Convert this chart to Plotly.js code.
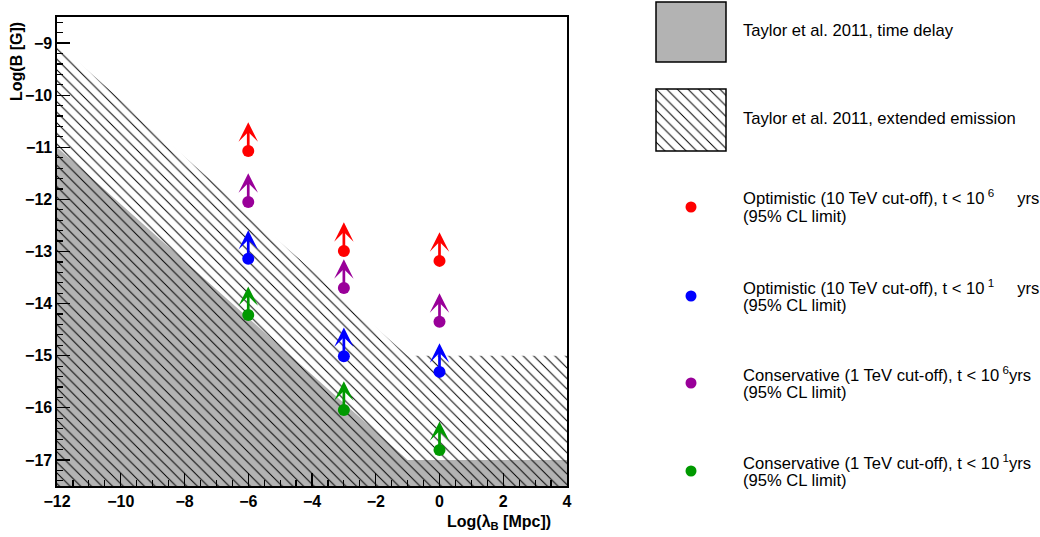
<!DOCTYPE html>
<html>
<head>
<meta charset="utf-8">
<script src="https://cdn.plot.ly/plotly-3.0.1.min.js"></script>
<style>html,body{margin:0;padding:0;background:#fff;}#chart{width:1040px;height:537px;}</style>
</head>
<body>
<div id="chart"></div>
<script>
// ---- data ----
const lambdaCols = [-6, -3, 0];                      // Log(lambda_B [Mpc])
const optimistic1e6 = [-11.07, -12.99, -13.18];      // red
const optimistic1e1 = [-13.14, -15.01, -15.31];      // blue
const conservative1e6 = [-12.05, -13.70, -14.35];    // purple
const conservative1e1 = [-14.22, -16.04, -16.81];    // green
const timeDelayX = [-12, -1, 4];
const timeDelayY = [-11, -17, -17];
const extEmissionX = [-12, -1, 4];
const extEmissionY = [-9, -15, -15];
const xRange = [-12, 4];
const yRange = [-17.5, -8.5];
const arrowLen = 0.55;

const seriesLine1 = [
  "Optimistic (10 TeV cut-off), t < 10<sup> 6</sup>&nbsp;&nbsp;&nbsp;&nbsp; yrs",
  "Optimistic (10 TeV cut-off), t < 10<sup> 1</sup>&nbsp;&nbsp;&nbsp;&nbsp; yrs",
  "Conservative (1 TeV cut-off), t < 10<sup> 6</sup>yrs",
  "Conservative (1 TeV cut-off), t < 10<sup> 1</sup>yrs"
];
const seriesLine2 = ["(95% CL limit)", "(95% CL limit)", "(95% CL limit)", "(95% CL limit)"];
const seriesValues = [optimistic1e6, optimistic1e1, conservative1e6, conservative1e1];
const seriesColors = ["#ff0000", "#0000ff", "#990099", "#009900"];

// ---- geometry ----
const W = 1040, H = 537;
const L = 57, R = 567, T = 17, B = 486;
const px = v => v / W;
const py = v => 1 - v / H;
const FONT = "Liberation Sans, Arial, Helvetica, sans-serif";

const traces = [];
// time delay (gray)
traces.push({
  type: 'scatter', mode: 'none', hoverinfo: 'skip', showlegend: false,
  x: timeDelayX.concat([xRange[1], xRange[0]]),
  y: timeDelayY.concat([yRange[0], yRange[0]]),
  fill: 'toself', fillcolor: '#b3b3b3'
});
// extended emission (hatched)
traces.push({
  type: 'scatter', mode: 'none', hoverinfo: 'skip', showlegend: false,
  x: extEmissionX.concat([xRange[1], xRange[0]]),
  y: extEmissionY.concat([yRange[0], yRange[0]]),
  fill: 'toself', fillcolor: 'rgba(0,0,0,0)',
  fillpattern: {shape: '\\', fgcolor: '#000000', bgcolor: 'rgba(0,0,0,0)', size: 7.5, solidity: 0.13}
});
// points
const annotations = [];
seriesValues.forEach((vals, i) => {
  traces.push({
    type: 'scatter', mode: 'markers', showlegend: false, hoverinfo: 'skip',
    x: lambdaCols, y: vals,
    marker: {color: seriesColors[i], size: 12, line: {width: 0}}
  });
  vals.forEach((v, j) => {
    annotations.push({
      xref: 'x', yref: 'y', axref: 'x', ayref: 'y',
      x: lambdaCols[j], y: v + arrowLen, ax: lambdaCols[j], ay: v,
      text: '', showarrow: true, arrowhead: 3, arrowsize: 1.2,
      arrowwidth: 2.7, arrowcolor: seriesColors[i], standoff: 0
    });
  });
});
// legend hatch box fill
traces.push({
  type: 'scatter', mode: 'none', hoverinfo: 'skip', showlegend: false,
  xaxis: 'x2', yaxis: 'y2',
  x: [0, 1, 1, 0, 0], y: [0, 0, 1, 1, 0],
  fill: 'toself', fillcolor: 'rgba(0,0,0,0)',
  fillpattern: {shape: '\\', fgcolor: '#000000', bgcolor: 'rgba(0,0,0,0)', size: 7.5, solidity: 0.13}
});

// axis titles
annotations.push({
  xref: 'paper', yref: 'paper', x: px(17), y: py(62), xanchor: 'center', yanchor: 'middle',
  text: 'Log(B [G])', textangle: -90, showarrow: false,
  font: {family: FONT, size: 16, weight: 'bold', color: '#000'}
});
annotations.push({
  xref: 'paper', yref: 'paper', x: px(553), y: py(522), xanchor: 'right', yanchor: 'middle',
  text: 'Log(λ<sub>B</sub> [Mpc])', showarrow: false,
  font: {family: FONT, size: 16, weight: 'bold', color: '#000'}
});

// legend
const shapes = [];
const boxL = 656, boxR = 726;
shapes.push({type: 'rect', xref: 'paper', yref: 'paper', x0: px(boxL), x1: px(boxR), y0: py(62), y1: py(2),
  fillcolor: '#b3b3b3', line: {color: '#000', width: 1.5}, layer: 'above'});
shapes.push({type: 'rect', xref: 'paper', yref: 'paper', x0: px(boxL), x1: px(boxR), y0: py(151), y1: py(89),
  fillcolor: 'rgba(0,0,0,0)', line: {color: '#000', width: 1.5}, layer: 'above'});
const legText = (t, yPix) => ({
  xref: 'paper', yref: 'paper', x: px(741), y: py(yPix), xanchor: 'left', yanchor: 'middle',
  align: 'left', text: t, showarrow: false, font: {family: FONT, size: 16.6, color: '#000'}
});
annotations.push(legText('Taylor et al. 2011, time delay', 31));
annotations.push(legText('Taylor et al. 2011, extended emission', 118));
const legDotY = [207, 296, 383, 471];
seriesLine1.forEach((nm, i) => {
  shapes.push({type: 'circle', xref: 'paper', yref: 'paper', xsizemode: 'pixel', ysizemode: 'pixel',
    xanchor: px(691), yanchor: py(legDotY[i]), x0: -5.5, x1: 5.5, y0: -5.5, y1: 5.5,
    fillcolor: seriesColors[i], line: {width: 0}, layer: 'above'});
  annotations.push(legText(nm, legDotY[i] - 9.5));
  annotations.push(legText(seriesLine2[i], legDotY[i] + 9.5));
});

const tickFont = {family: FONT, size: 16, weight: 'bold', color: '#000'};
const layout = {
  width: W, height: H,
  margin: {l: 0, r: 0, t: 0, b: 0},
  paper_bgcolor: '#fff', plot_bgcolor: '#fff',
  showlegend: false,
  xaxis: {
    domain: [px(L), px(R)], range: xRange, dtick: 2, tick0: 0,
    ticks: 'inside', ticklen: 13, tickwidth: 1.2, tickcolor: '#000',
    minor: {ticks: 'inside', ticklen: 6, dtick: 0.5, tickwidth: 1.2, tickcolor: '#000', showgrid: false},
    showline: true, linecolor: '#000', linewidth: 1.6, mirror: true,
    showgrid: false, zeroline: false, tickfont: tickFont, anchor: 'y', fixedrange: true
  },
  yaxis: {
    domain: [py(B), py(T)], range: yRange, dtick: 1, tick0: 0,
    ticks: 'inside', ticklen: 13, tickwidth: 1.2, tickcolor: '#000',
    minor: {ticks: 'inside', ticklen: 6, dtick: 0.2, tickwidth: 1.2, tickcolor: '#000', showgrid: false},
    showline: true, linecolor: '#000', linewidth: 1.6, mirror: true,
    showgrid: false, zeroline: false, tickfont: tickFont, anchor: 'x', fixedrange: true
  },
  xaxis2: {domain: [px(boxL), px(boxR)], range: [0, 1], visible: false, anchor: 'y2', fixedrange: true},
  yaxis2: {domain: [py(151), py(89)], range: [0, 1], visible: false, anchor: 'x2', fixedrange: true},
  shapes: shapes,
  annotations: annotations
};

Plotly.newPlot('chart', traces, layout, {staticPlot: true, displayModeBar: false});
</script>
</body>
</html>
